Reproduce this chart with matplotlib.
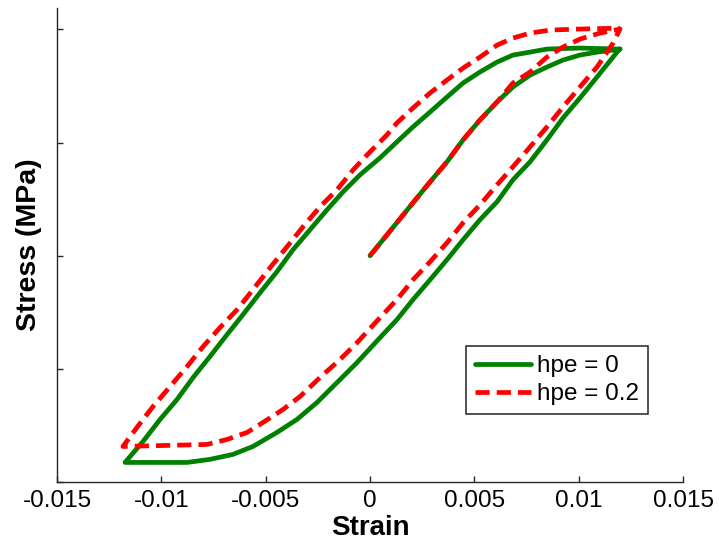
import matplotlib
matplotlib.use("Agg")
import matplotlib.pyplot as plt

plt.rcParams['font.family'] = ['Liberation Sans', 'DejaVu Sans']

# hpe = 0 : initial loading, unloading (right branch), reloading (left branch)
strain_g = [0.0, 0.00206, 0.00288, 0.00369, 0.00446, 0.00527, 0.00609,
            0.00685, 0.00767, 0.00848, 0.00925, 0.01006, 0.01088, 0.01165, 0.01198,
            0.01184, 0.01088, 0.01006, 0.00925, 0.00848, 0.00767, 0.00685, 0.00609,
            0.00527, 0.00446, 0.00369, 0.00288, 0.00206, 0.00129, 0.00048,
            -0.00062, -0.00158, -0.00254, -0.00350, -0.00446, -0.00561, -0.00657,
            -0.00767, -0.00877, -0.01174,
            -0.01088, -0.01006, -0.00925, -0.00848, -0.00767, -0.00685, -0.00609,
            -0.00527, -0.00446, -0.00369, -0.00288, -0.00206, -0.00129, -0.00048,
            0.00048, 0.00129, 0.00206, 0.00288, 0.00369, 0.00446, 0.00527, 0.00609,
            0.00685, 0.00767, 0.00848, 0.01006, 0.01198]
stress_g = [0.0, 46.8, 65.3, 83.0, 102.4, 120.0, 135.9,
            149.2, 159.7, 166.8, 173.0, 177.4, 180.0, 181.8, 182.7,
            180.0, 158.0, 139.4, 121.8, 102.4, 83.0, 67.1, 47.7,
            31.8, 14.1, -3.5, -21.2, -38.8, -56.5, -72.4,
            -94.4, -112.1, -129.7, -144.7, -156.2, -168.6, -175.6,
            -180.0, -182.7, -182.7,
            -164.2, -144.7, -127.1, -107.7, -89.1, -69.7, -52.1,
            -32.7, -14.1, 5.3, 22.9, 40.6, 56.5, 71.5,
            86.5, 100.6, 113.9, 127.1, 140.3, 152.7, 162.4, 171.2,
            177.4, 180.0, 182.7, 183.6, 182.7]

# hpe = 0.2
strain_r = [0.0, 0.00206, 0.00288, 0.00369, 0.00446, 0.00527, 0.00609,
            0.00685, 0.00767, 0.00848, 0.00925, 0.01006, 0.01102, 0.01198,
            0.01165, 0.01088, 0.01006, 0.00925, 0.00848, 0.00767, 0.00685, 0.00609,
            0.00527, 0.00446, 0.00369, 0.00288, 0.00206, 0.00129, 0.00048,
            -0.00062, -0.00144, -0.00240, -0.00335, -0.00417, -0.00513, -0.00589,
            -0.00685, -0.00781, -0.01184,
            -0.01117, -0.01040, -0.00958, -0.00877, -0.00800, -0.00719, -0.00637,
            -0.00561, -0.00479, -0.00398, -0.00321, -0.00240, -0.00158, -0.00081,
            0.0, 0.00081, 0.00129, 0.00206, 0.00288, 0.00369, 0.00446, 0.00527,
            0.00609, 0.00685, 0.00767, 0.00863, 0.01006, 0.01198]
stress_r = [0.0, 46.8, 65.3, 83.0, 102.4, 120.0, 135.9,
            152.7, 162.4, 175.6, 184.5, 191.5, 196.8, 200.4,
            188.0, 166.8, 149.2, 131.5, 113.9, 96.2, 78.6, 62.7,
            45.0, 29.1, 11.5, -5.3, -21.2, -38.8, -54.7,
            -76.8, -91.8, -107.7, -124.4, -135.9, -147.4, -156.2,
            -162.4, -166.8, -168.6,
            -151.8, -133.3, -115.6, -98.0, -80.3, -63.5, -47.7,
            -30.0, -10.6, 7.9, 25.6, 43.2, 58.3, 75.9,
            91.8, 106.8, 117.4, 130.6, 143.9, 155.3, 165.9, 175.6,
            186.2, 192.4, 196.8, 199.5, 200.4, 201.2]

labels = ['hpe = 0', 'hpe = 0.2']
xticks = [-0.015, -0.01, -0.005, 0, 0.005, 0.01, 0.015]
xticklabels = ['-0.015', '-0.01', '-0.005', '0', '0.005', '0.01', '0.015']
yticks = [-200, -100, 0, 100, 200]

fig = plt.figure(figsize=(7.19, 5.52), dpi=100)
ax = fig.add_axes([57/719, (552-482)/552, 626/719, 474/552])

ax.plot(strain_g, stress_g, color='#008000', lw=3.4, label=labels[0],
        solid_joinstyle='round', solid_capstyle='round')
ax.plot(strain_r, stress_r, color='#ff0000', lw=3.4, linestyle=(0, (3, 1.5)),
        label=labels[1], dash_joinstyle='round')

ax.set_xlim(-0.015, 0.015)
ax.set_ylim(-200, 219)
ax.set_xticks(xticks)
ax.set_xticklabels(xticklabels)
ax.set_yticks(yticks)
ax.set_yticklabels([])

for s in ['top', 'right']:
    ax.spines[s].set_visible(False)
for s in ['left', 'bottom']:
    ax.spines[s].set_color('#262626')
    ax.spines[s].set_linewidth(1.0)
ax.tick_params(direction='in', length=4.5, width=1.0, color='#262626',
               labelsize=17.5, labelcolor='black', pad=6)

ax.set_xlabel('Strain', fontsize=20, fontweight='bold', labelpad=2)
ax.set_ylabel('Stress (MPa)', fontsize=20.5, fontweight='bold', labelpad=5)

leg = ax.legend(loc='center', bbox_to_anchor=(0.799, 0.215), fontsize=17.5,
                frameon=True, fancybox=False, edgecolor='black',
                handlelength=2.3, handletextpad=0.25, labelspacing=0.25,
                borderpad=0.38, borderaxespad=0)
leg.get_frame().set_linewidth(1.2)

fig.savefig('out.png', dpi=100)
